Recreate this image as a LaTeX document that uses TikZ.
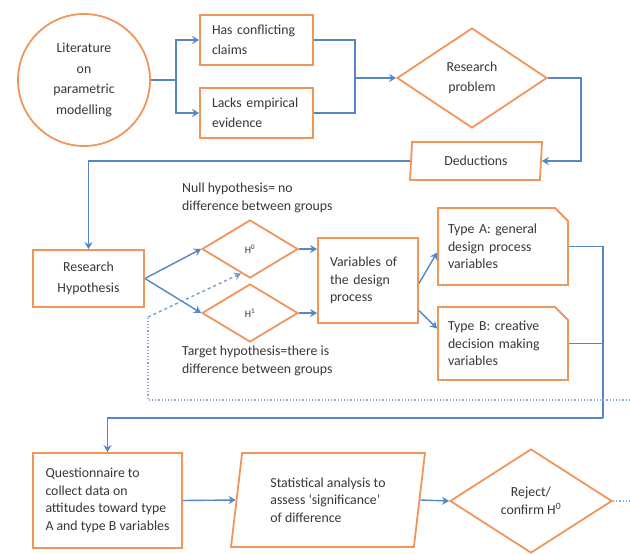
\documentclass[tikz,border=0pt]{standalone}
\usepackage{fontspec}
\setmainfont{Carlito}
\usepackage{tikz}
\usetikzlibrary{shapes.geometric, shapes.misc, arrows.meta, positioning, calc}
\definecolor{boxorange}{RGB}{240, 150, 90}
\definecolor{flowblue}{RGB}{86, 134, 198}
\definecolor{txtgray}{RGB}{55, 55, 55}

\begin{document}
\begin{tikzpicture}[x=1pt, y=-1pt,
  every node/.style={font=\fontsize{13.8}{17.5}\selectfont, text=txtgray},
  procbox/.style={draw=boxorange, line width=1.8pt, fill=white, inner sep=0pt},
  decision/.style={draw=boxorange, line width=1.8pt, fill=white, diamond, aspect=1.5, inner sep=0pt},
  iobox/.style={draw=boxorange, line width=1.8pt, fill=white, trapezium, trapezium stretches body=true, inner sep=0pt},
  flow/.style={draw=flowblue, line width=1.4pt, -{Stealth[length=7pt, width=8pt]}},
  link/.style={draw=flowblue, line width=1.4pt},
  loose/.style={draw=flowblue!70, line width=1.2pt, dotted}
]
  \fill[white] (0,0) rectangle (630,554);
  \useasboundingbox (0,0) rectangle (630,554);

  % Literature and its gaps
  \node[procbox, circle, minimum size=132pt, align=center, font=\fontsize{13.8}{20.5}\selectfont] (lit) at (84, 80) {Literature\\on\\parametric\\modelling};

  \node[procbox, minimum width=113pt, minimum height=50pt, text width=89pt, inner xsep=12pt, align=left, font=\fontsize{13.8}{19.5}\selectfont] (conf) at (256.5, 40) {Has conflicting\\claims};
  \node[procbox, minimum width=113pt, minimum height=50pt, text width=89pt, inner xsep=12pt, align=left, font=\fontsize{13.8}{19.5}\selectfont] (lacks) at (256.5, 113) {Lacks empirical\\evidence};
  \draw[flow] (lit.east) -- ++(25,0) |- (conf.west);
  \draw[flow] (lit.east) -- ++(25,0) |- (lacks.west);

  % Research problem and deductions
  \node[decision, minimum width=150pt, minimum height=100pt, align=center, font=\fontsize{13.8}{20.5}\selectfont] (prob) at (472, 78) {Research\\problem};
  \node[iobox, trapezium left angle=78, trapezium right angle=102, minimum width=132pt, minimum height=38pt] (ded) at (476, 161) {Deductions};

  \coordinate (jn) at (355, 78);
  \draw[link] (conf.east) -| (jn);
  \draw[link] (lacks.east) -| (jn);
  \draw[flow] (jn) -- (prob.west);
  \draw[flow] (prob.east) -- ++(33,0) |- (ded.east);

  % Hypotheses
  \node[procbox, minimum width=111pt, minimum height=57pt, align=center, font=\fontsize{13.8}{20.5}\selectfont] (rh) at (88.5, 278.5) {Research\\Hypothesis};
  \draw[flow] (ded.west) -| (rh.north);

  \node[decision, minimum width=96pt, minimum height=58pt, font=\fontsize{10}{12}\selectfont] (h0) at (250, 249) {H\textsuperscript{0}};
  \node[decision, minimum width=96pt, minimum height=58pt, font=\fontsize{10}{12}\selectfont] (h1) at (250, 313) {H\textsuperscript{1}};
  \node[anchor=north west, align=left, inner sep=0pt] (nulltxt) at (182, 183) {Null hypothesis= no\\difference between groups};
  \node[anchor=north west, align=left, inner sep=0pt] (tgttxt) at (182, 346) {Target hypothesis=there is\\difference between groups};
  \draw[flow] (rh.east) -- (h0.west);
  \draw[flow] (rh.east) -- (h1.west);

  % Variables
  \node[procbox, minimum width=100pt, minimum height=85pt, text width=76pt, inner xsep=12pt, align=left] (var) at (368, 280.5) {Variables of\\the design\\process};
  \draw[flow] (h0.east) -- (h0.east -| var.west);
  \draw[flow] (h1.east) -- (h1.east -| var.west);

  \node[procbox, chamfered rectangle, chamfered rectangle corners=north east, chamfered rectangle xsep=6pt, chamfered rectangle ysep=7pt, minimum width=130pt, minimum height=77pt, text width=110pt, inner xsep=4pt, align=left] (typeA) at (503, 246.5) {Type A: general\\design process\\variables};
  \node[procbox, chamfered rectangle, chamfered rectangle corners=north east, chamfered rectangle xsep=6pt, chamfered rectangle ysep=7pt, minimum width=130pt, minimum height=73pt, text width=110pt, inner xsep=4pt, align=left] (typeB) at (503, 343.5) {Type B: creative\\decision making\\variables};
  \draw[flow] ($(var.east)+(0,3)$) -- ($(typeA.west)+(0,6)$);
  \draw[flow] ($(var.east)+(0,30)$) -- ($(typeB.west)+(0,-15)$);

  % Data collection and analysis
  \node[procbox, minimum width=149pt, minimum height=95pt, inner xsep=8pt, align=left] (quest) at (107.5, 500.5) {Questionnaire to\\collect data on\\attitudes toward type\\A and type B variables};
  \node[iobox, trapezium left angle=76, trapezium right angle=104, minimum width=194pt, minimum height=94pt, align=left] (stat) at (328, 500) {Statistical analysis to\\assess `significance'\\of difference};
  \node[decision, minimum width=162pt, minimum height=104pt, align=center] (rej) at (531, 501) {Reject/\\confirm H\textsuperscript{0}};

  \coordinate (jr) at (603, 418);
  \draw[link] (typeA.east) -| (jr);
  \draw[link] (typeB.east) -- (typeB.east -| jr);
  \draw[flow] (jr) -| (quest.north);
  \draw[flow] (quest.east) -- (stat.west);
  \draw[flow] (stat.east) -- (rej.west);

  % feedback loop (dotted)
  \coordinate (fb) at (148, 317);
  \coordinate (outtop) at (630, 400);
  \coordinate (outbot) at (630, 501);
  \draw[loose] (outtop) -| (fb);
  \draw[flow, dashed, draw=flowblue!80] (fb) -- (h0.250);
  \draw[loose] (rej.east) -- (outbot);
\end{tikzpicture}
\end{document}
